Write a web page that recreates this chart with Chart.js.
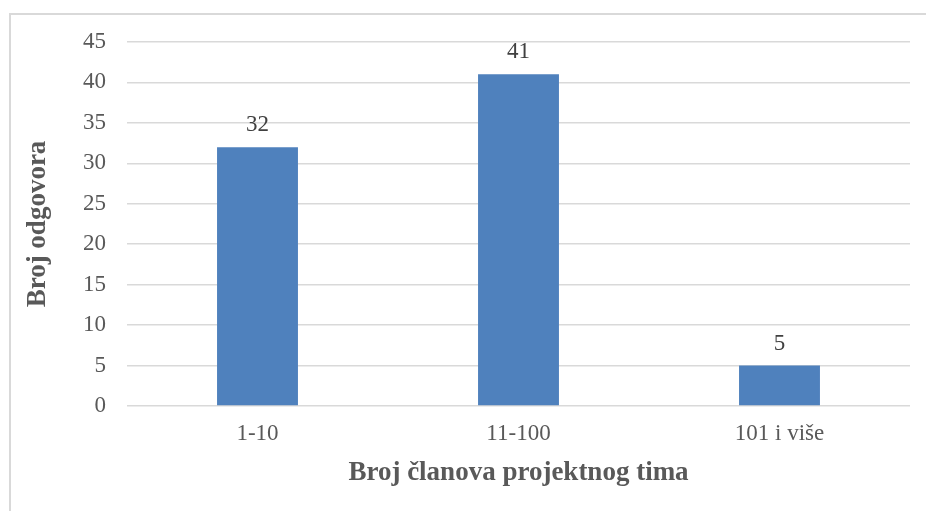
<!DOCTYPE html>
<html>
<head>
<meta charset="utf-8">
<script src="https://cdn.jsdelivr.net/npm/chart.js@4/dist/chart.umd.min.js"></script>
<style>
  html, body { margin:0; padding:0; background:#fff; }
  #wrap { position:relative; width:926px; height:511px; overflow:hidden; }
  #frame { position:absolute; left:9px; top:13px; width:940px; height:520px;
           border-top:2px solid #d9d9d9; border-left:2px solid #d9d9d9; box-sizing:border-box; }
  canvas { position:absolute; left:0; top:0; }
</style>
</head>
<body>
<div id="wrap">
  <div id="frame"></div>
  <canvas id="teamChart" width="926" height="511"></canvas>
</div>
<script>
  // data
  const teamSizes = ['1-10', '11-100', '101 i više'];
  const answerCounts = [32, 41, 5];
  const yTicks = [0, 5, 10, 15, 20, 25, 30, 35, 40, 45];

  const serif = '"Liberation Serif", "Times New Roman", serif';

  // value labels above bars
  const barLabels = {
    id: 'barLabels',
    afterDatasetsDraw(chart){
      const ctx = chart.ctx;
      const meta = chart.getDatasetMeta(0);
      ctx.save();
      ctx.font = '23px ' + serif;
      ctx.fillStyle = '#404040';
      ctx.textAlign = 'center';
      ctx.textBaseline = 'alphabetic';
      meta.data.forEach((bar, i) => {
        ctx.fillText(String(answerCounts[i]), bar.x, bar.y - 16);
      });
      ctx.restore();
    }
  };

  new Chart(document.getElementById('teamChart').getContext('2d'), {
    type: 'bar',
    data: {
      labels: teamSizes,
      datasets: [{ data: answerCounts, backgroundColor: '#4f81bd', borderWidth: 0,
                   categoryPercentage: 1, barPercentage: 0.31 }]
    },
    options: {
      responsive: false,
      animation: false,
      layout: { padding: { left: 10, top: 42, right: 16, bottom: 18 } },
      plugins: { legend: { display: false }, tooltip: { enabled: false } },
      scales: {
        x: {
          grid: { display: false, drawTicks: false },
          border: { display: false },
          ticks: { color: '#595959', font: { family: serif, size: 23 }, padding: 14 },
          title: { display: true, text: 'Broj članova projektnog tima', color: '#595959',
                   font: { family: serif, size: 27, weight: 'bold' }, padding: { top: 10 } },
          afterFit(scale){ scale.height = 87; }
        },
        y: {
          min: 0, max: 45,
          afterBuildTicks(scale){ scale.ticks = yTicks.map(v => ({ value: v })); },
          grid: { color: '#d9d9d9', lineWidth: 1.5, drawTicks: false },
          border: { display: false },
          ticks: { color: '#595959', font: { family: serif, size: 23 }, padding: 21 },
          title: { display: true, text: 'Broj odgovora', color: '#595959',
                   font: { family: serif, size: 27, weight: 'bold' }, padding: { top: 12 } },
          afterFit(scale){ scale.width = 117; }
        }
      }
    },
    plugins: [barLabels]
  });
</script>
</body>
</html>
